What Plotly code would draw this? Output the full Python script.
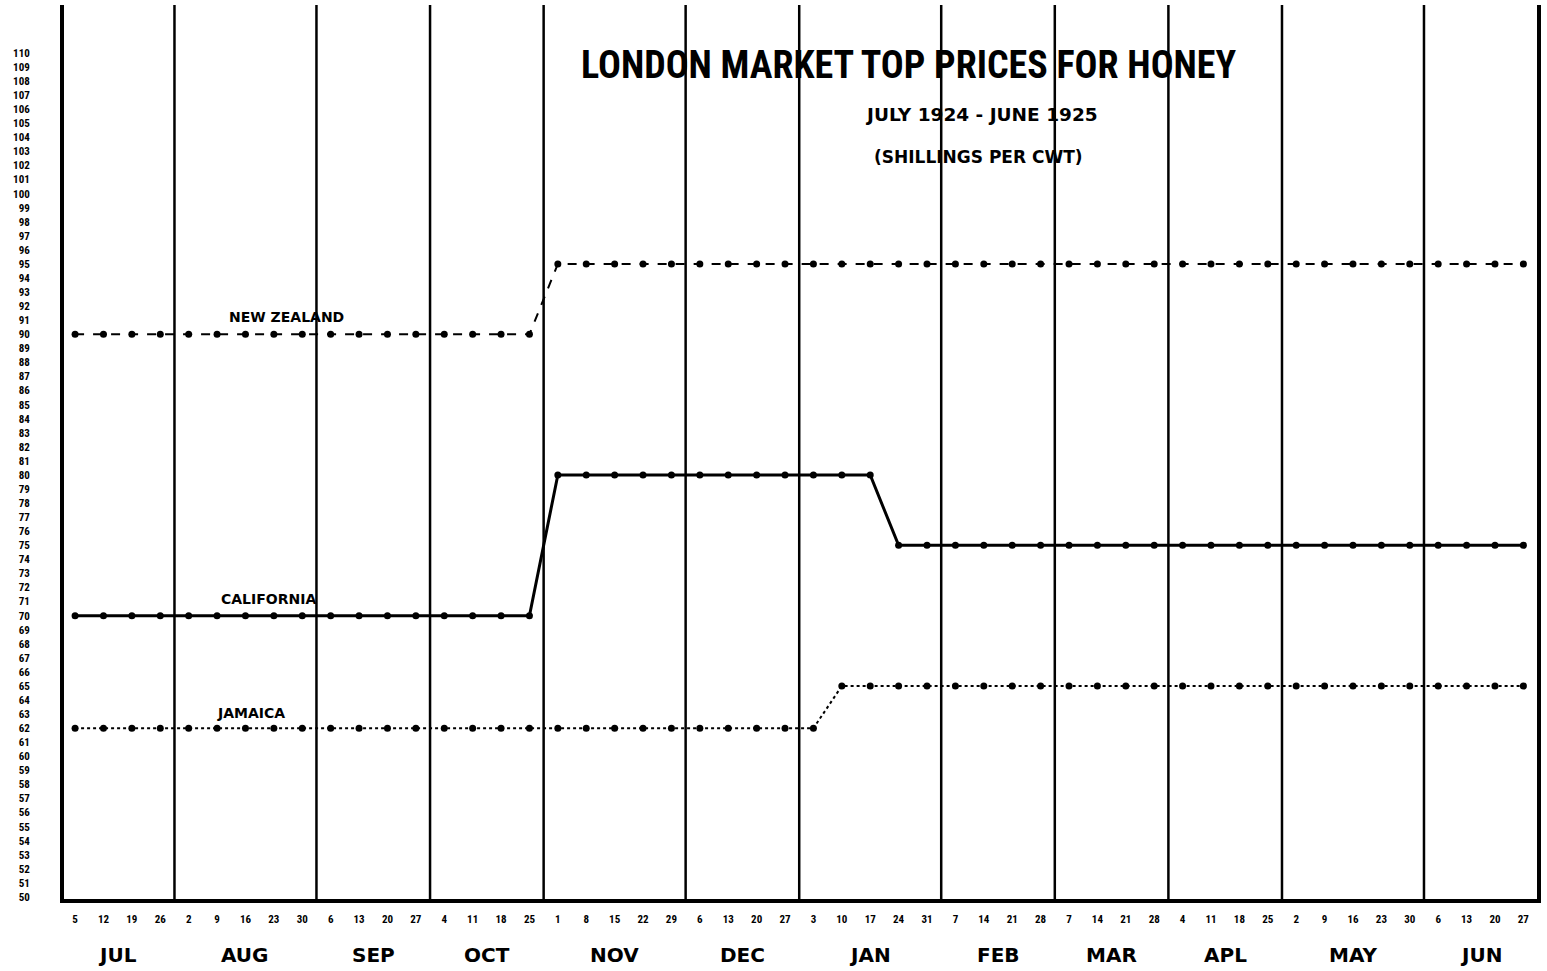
import plotly.graph_objects as go

# ---- data ----
months = ["JUL", "AUG", "SEP", "OCT", "NOV", "DEC", "JAN", "FEB", "MAR", "APL", "MAY", "JUN"]
weeks_per_month = [4, 5, 4, 4, 5, 4, 5, 4, 4, 4, 5, 4]
week_days = [5, 12, 19, 26,
             2, 9, 16, 23, 30,
             6, 13, 20, 27,
             4, 11, 18, 25,
             1, 8, 15, 22, 29,
             6, 13, 20, 27,
             3, 10, 17, 24, 31,
             7, 14, 21, 28,
             7, 14, 21, 28,
             4, 11, 18, 25,
             2, 9, 16, 23, 30,
             6, 13, 20, 27]

new_zealand = [90, 90, 90, 90, 90, 90, 90, 90, 90, 90, 90, 90, 90, 90, 90, 90, 90,
               95, 95, 95, 95, 95, 95, 95, 95, 95, 95, 95, 95, 95, 95, 95, 95, 95,
               95, 95, 95, 95, 95, 95, 95, 95, 95, 95, 95, 95, 95, 95, 95, 95, 95, 95]
california = [70, 70, 70, 70, 70, 70, 70, 70, 70, 70, 70, 70, 70, 70, 70, 70, 70,
              80, 80, 80, 80, 80, 80, 80, 80, 80, 80, 80, 80,
              75, 75, 75, 75, 75, 75, 75, 75, 75, 75, 75, 75, 75, 75, 75, 75, 75,
              75, 75, 75, 75, 75, 75]
jamaica = [62, 62, 62, 62, 62, 62, 62, 62, 62, 62, 62, 62, 62, 62, 62, 62, 62,
           62, 62, 62, 62, 62, 62, 62, 62, 62, 62,
           65, 65, 65, 65, 65, 65, 65, 65, 65, 65, 65, 65, 65, 65, 65, 65, 65,
           65, 65, 65, 65, 65, 65, 65, 65]

y_ticks = list(range(50, 111))

title = "LONDON MARKET TOP PRICES FOR HONEY"
subtitle1 = "JULY 1924 - JUNE 1925"
subtitle2 = "(SHILLINGS PER CWT)"

# ---- figure ----
x = list(range(len(week_days)))
NARROW = "Roboto Condensed, Roboto, sans-serif"
WIDE = "DejaVu Sans, sans-serif"

fig = go.Figure()
fig.add_trace(go.Scatter(x=x, y=new_zealand, mode="lines+markers", name="NEW ZEALAND",
                         line=dict(color="black", width=2, dash="dash"),
                         marker=dict(color="black", size=7)))
fig.add_trace(go.Scatter(x=x, y=california, mode="lines+markers", name="CALIFORNIA",
                         line=dict(color="black", width=3),
                         marker=dict(color="black", size=7)))
fig.add_trace(go.Scatter(x=x, y=jamaica, mode="lines+markers", name="JAMAICA",
                         line=dict(color="black", width=2, dash="dot"),
                         marker=dict(color="black", size=7)))

# month separators and month labels
shapes = []
annotations = []
start = 0
for i, (m, n) in enumerate(zip(months, weeks_per_month)):
    center = start + (n - 1) / 2
    annotations.append(dict(x=center, y=0, xref="x", yref="paper", yshift=-56,
                            xanchor="center", yanchor="middle",
                            text=m, showarrow=False,
                            font=dict(family=WIDE, size=20, color="black", weight="bold")))
    end = start + n
    if i < len(months) - 1:
        shapes.append(dict(type="line", xref="x", yref="paper",
                           x0=end - 0.5, x1=end - 0.5, y0=0, y1=1,
                           line=dict(color="black", width=2.5)))
    start = end

# series labels
series_labels = [("NEW ZEALAND", 7.46, 91.2, 14), ("CALIFORNIA", 6.8, 71.2, 14), ("JAMAICA", 6.2, 63.1, 14)]
for txt, lx, ly, fs in series_labels:
    annotations.append(dict(x=lx, y=ly, xref="x", yref="y", text=txt, showarrow=False,
                            xanchor="center", yanchor="middle",
                            font=dict(family=WIDE, size=fs, color="black", weight="bold")))

# titles
annotations.append(dict(x=0.573, y=0.933, xref="paper", yref="paper", text=title,
                        showarrow=False, xanchor="center", yanchor="middle",
                        font=dict(family=NARROW, size=38, color="black", weight="bold")))
annotations.append(dict(x=0.623, y=0.877, xref="paper", yref="paper", text=subtitle1,
                        showarrow=False, xanchor="center", yanchor="middle",
                        font=dict(family=WIDE, size=18.5, color="black", weight="bold")))
annotations.append(dict(x=0.621, y=0.830, xref="paper", yref="paper", text=subtitle2,
                        showarrow=False, xanchor="center", yanchor="middle",
                        font=dict(family=WIDE, size=17, color="black", weight="bold")))

fig.update_layout(
    width=1547, height=971,
    margin=dict(l=64, r=10, t=5, b=72),
    plot_bgcolor="white", paper_bgcolor="white",
    showlegend=False,
    shapes=shapes, annotations=annotations,
)
fig.update_xaxes(range=[-0.39, 51.48], tickmode="array", tickvals=x,
                 ticktext=[str(d) for d in week_days],
                 showgrid=False, zeroline=False,
                 showline=True, linecolor="black", linewidth=4, mirror=False,
                 ticks="", ticklabelstandoff=7,
                 tickfont=dict(family=NARROW, size=11, color="black", weight="bold"))
fig.update_yaxes(range=[49.86, 113.41], tickmode="array", tickvals=y_ticks,
                 ticktext=[str(v) for v in y_ticks],
                 showgrid=False, zeroline=False,
                 showline=True, linecolor="black", linewidth=4, mirror=True,
                 ticks="", ticklabelstandoff=28,
                 tickfont=dict(family=NARROW, size=11, color="black", weight="bold"))

fig.write_html("out.html", config={"displayModeBar": False},
               post_script="document.body.style.margin='0';")
